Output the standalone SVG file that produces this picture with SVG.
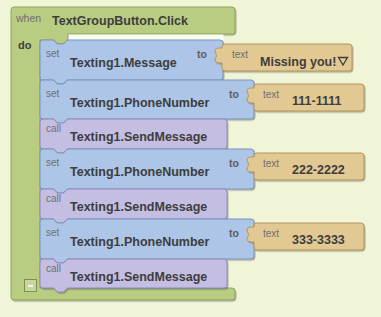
<svg xmlns="http://www.w3.org/2000/svg" width="381" height="317" viewBox="0 0 381 317">
  <defs>
    <filter id="sh" x="-5%" y="-10%" width="115%" height="130%">
      <feDropShadow dx="1" dy="1.2" stdDeviation="0.6" flood-color="#2c2c18" flood-opacity="0.35"/>
    </filter>
    <path id="tabIn" d="M0,19c-3,0 -7,0 -7,-3c0,-2 1.5,-2.5 1.5,-4.5c0,-2 -1.5,-2.5 -1.5,-4.5c0,-3 4,-3 7,-3"/>
  </defs>
  <style>
    .ev{fill:#b8cc82;stroke:#8fa35c;stroke-width:1}
    .st{fill:#adc5e6;stroke:#7893bd;stroke-width:1}
    .cl{fill:#c4bfe2;stroke:#8f88bb;stroke-width:1}
    .tx{fill:#e2c892;stroke:#b3945a;stroke-width:1}
    .sm{font-family:"Liberation Sans",Arial,sans-serif;font-size:10px;fill:#707070}
    .nm{font-family:"Liberation Sans",Arial,sans-serif;font-size:12.5px;font-weight:bold;fill:#3d3d3d}
    .to{font-family:"Liberation Sans",Arial,sans-serif;font-size:10.5px;font-weight:bold;fill:#5c5c5c}
  </style>

  <!-- workspace -->
  <rect x="0" y="0" width="381" height="317" fill="#f1f5d8"/>

  <!-- event block: when TextGroupButton.Click / do -->
  <g id="event">
    <path class="ev" filter="url(#sh)" d="M14,7H232q3,0 3,3V31q0,3 -3,3H68V40c-2,0 -3,4 -5,4h-5c-2,0 -3,-4 -5,-4H40V288H232q3,0 3,3V297q0,3 -3,3H14q-3,0 -3,-3V10q0,-3 3,-3Z"/>
    <rect x="68.5" y="34.5" width="155" height="5.5" fill="#fafcf0"/>
    <text class="sm" x="16" y="22" style="font-size:10.5px">when</text>
    <text class="nm" x="52" y="25">TextGroupButton.Click</text>
    <text class="nm" x="18" y="49" style="font-size:11px">do</text>
    <rect x="24.5" y="279.5" width="12" height="12" fill="#c9d89a" stroke="#7d8e52"/>
    <line x1="28" y1="286" x2="33" y2="286" stroke="#ffffff" stroke-width="1.5"/>
  </g>

  <!-- set Texting1.Message -->
  <g id="setMessage">
    <path class="st" filter="url(#sh)" transform="translate(40,40)" d="M3,0H13c2,0 3,4 5,4h5c2,0 3,-4 5,-4H180q3,0 3,3V37q0,3 -3,3H28c-2,0 -3,4 -5,4h-5c-2,0 -3,-4 -5,-4H3q-3,0 -3,-3V3q0,-3 3,-3Z"/>
    <text class="sm" x="46" y="57">set</text>
    <text class="nm" x="70" y="67">Texting1.Message</text>
    <text class="to" x="197" y="58">to</text>
  </g>
  <g id="textMissing">
    <path class="tx" filter="url(#sh)" transform="translate(222,44)" d="M3,0H127q3,0 3,3V24q0,3 -3,3H3q-3,0 -3,-3V19c-3,0 -7,0 -7,-3c0,-2 1.5,-2.5 1.5,-4.5c0,-2 -1.5,-2.5 -1.5,-4.5c0,-3 4,-3 7,-3V3q0,-3 3,-3Z"/>
    <text class="sm" x="232" y="58">text</text>
    <text class="nm" x="260" y="66">Missing you!</text>
    <polygon points="338.5,57.5 347.5,57.5 343,65" fill="none" stroke="#3d3d3d" stroke-width="1.3"/>
  </g>

  <!-- set Texting1.PhoneNumber (1) -->
  <g id="setPhone1">
    <path class="st" filter="url(#sh)" transform="translate(40,80)" d="M3,0H13c2,0 3,4 5,4h5c2,0 3,-4 5,-4H211q3,0 3,3V36q0,3 -3,3H28c-2,0 -3,4 -5,4h-5c-2,0 -3,-4 -5,-4H3q-3,0 -3,-3V3q0,-3 3,-3Z"/>
    <text class="sm" x="46" y="97">set</text>
    <text class="nm" x="70" y="107">Texting1.PhoneNumber</text>
    <text class="to" x="229" y="98">to</text>
  </g>
  <g id="text111">
    <path class="tx" filter="url(#sh)" transform="translate(254,84)" d="M3,0H107q3,0 3,3V24q0,3 -3,3H3q-3,0 -3,-3V19c-3,0 -7,0 -7,-3c0,-2 1.5,-2.5 1.5,-4.5c0,-2 -1.5,-2.5 -1.5,-4.5c0,-3 4,-3 7,-3V3q0,-3 3,-3Z"/>
    <text class="sm" x="263" y="98">text</text>
    <text class="nm" x="292" y="105">111-1111</text>
  </g>

  <!-- call Texting1.SendMessage (1) -->
  <g id="send1">
    <path class="cl" filter="url(#sh)" transform="translate(40,119)" d="M3,0H13c2,0 3,4 5,4h5c2,0 3,-4 5,-4H184q3,0 3,3V27q0,3 -3,3H28c-2,0 -3,4 -5,4h-5c-2,0 -3,-4 -5,-4H3q-3,0 -3,-3V3q0,-3 3,-3Z"/>
    <text class="sm" x="46" y="132">call</text>
    <text class="nm" x="70" y="141">Texting1.SendMessage</text>
  </g>

  <!-- set Texting1.PhoneNumber (2) -->
  <g id="setPhone2">
    <path class="st" filter="url(#sh)" transform="translate(40,149)" d="M3,0H13c2,0 3,4 5,4h5c2,0 3,-4 5,-4H211q3,0 3,3V37q0,3 -3,3H28c-2,0 -3,4 -5,4h-5c-2,0 -3,-4 -5,-4H3q-3,0 -3,-3V3q0,-3 3,-3Z"/>
    <text class="sm" x="46" y="166">set</text>
    <text class="nm" x="70" y="176">Texting1.PhoneNumber</text>
    <text class="to" x="229" y="167">to</text>
  </g>
  <g id="text222">
    <path class="tx" filter="url(#sh)" transform="translate(254,153)" d="M3,0H107q3,0 3,3V24q0,3 -3,3H3q-3,0 -3,-3V19c-3,0 -7,0 -7,-3c0,-2 1.5,-2.5 1.5,-4.5c0,-2 -1.5,-2.5 -1.5,-4.5c0,-3 4,-3 7,-3V3q0,-3 3,-3Z"/>
    <text class="sm" x="263" y="167">text</text>
    <text class="nm" x="292" y="174">222-2222</text>
  </g>

  <!-- call Texting1.SendMessage (2) -->
  <g id="send2">
    <path class="cl" filter="url(#sh)" transform="translate(40,189)" d="M3,0H13c2,0 3,4 5,4h5c2,0 3,-4 5,-4H184q3,0 3,3V27q0,3 -3,3H28c-2,0 -3,4 -5,4h-5c-2,0 -3,-4 -5,-4H3q-3,0 -3,-3V3q0,-3 3,-3Z"/>
    <text class="sm" x="46" y="202">call</text>
    <text class="nm" x="70" y="211">Texting1.SendMessage</text>
  </g>

  <!-- set Texting1.PhoneNumber (3) -->
  <g id="setPhone3">
    <path class="st" filter="url(#sh)" transform="translate(40,219)" d="M3,0H13c2,0 3,4 5,4h5c2,0 3,-4 5,-4H211q3,0 3,3V37q0,3 -3,3H28c-2,0 -3,4 -5,4h-5c-2,0 -3,-4 -5,-4H3q-3,0 -3,-3V3q0,-3 3,-3Z"/>
    <text class="sm" x="46" y="236">set</text>
    <text class="nm" x="70" y="246">Texting1.PhoneNumber</text>
    <text class="to" x="229" y="237">to</text>
  </g>
  <g id="text333">
    <path class="tx" filter="url(#sh)" transform="translate(254,223)" d="M3,0H107q3,0 3,3V24q0,3 -3,3H3q-3,0 -3,-3V19c-3,0 -7,0 -7,-3c0,-2 1.5,-2.5 1.5,-4.5c0,-2 -1.5,-2.5 -1.5,-4.5c0,-3 4,-3 7,-3V3q0,-3 3,-3Z"/>
    <text class="sm" x="263" y="237">text</text>
    <text class="nm" x="292" y="244">333-3333</text>
  </g>

  <!-- call Texting1.SendMessage (3) -->
  <g id="send3">
    <path class="cl" filter="url(#sh)" transform="translate(40,259)" d="M3,0H13c2,0 3,4 5,4h5c2,0 3,-4 5,-4H184q3,0 3,3V26q0,3 -3,3H28c-2,0 -3,4 -5,4h-5c-2,0 -3,-4 -5,-4H3q-3,0 -3,-3V3q0,-3 3,-3Z"/>
    <text class="sm" x="46" y="272">call</text>
    <text class="nm" x="70" y="281">Texting1.SendMessage</text>
  </g>

  <!-- block stack has no links drawn between nodes -->
  <g id="connectors"/>
</svg>
